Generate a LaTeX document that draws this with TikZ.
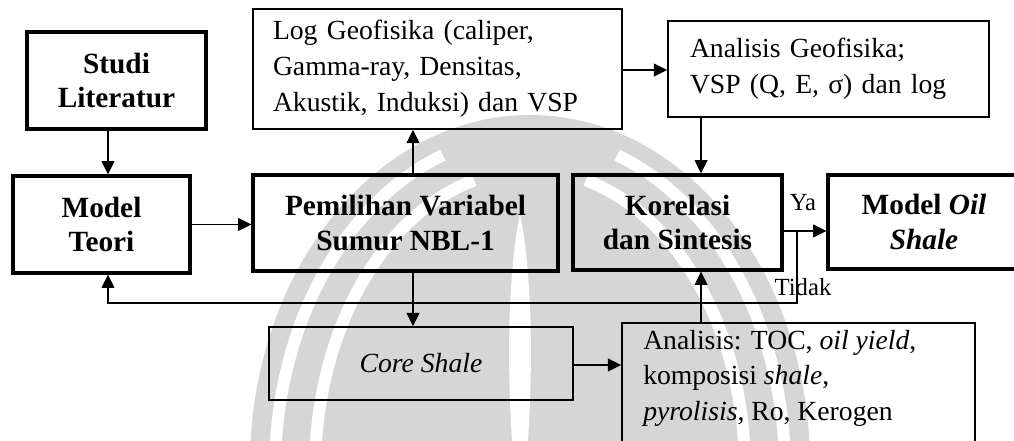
\documentclass[tikz,border=0pt]{standalone}
\usepackage{fontspec}
\setmainfont{Liberation Serif}
\usetikzlibrary{arrows.meta,calc}
\definecolor{wm}{gray}{0.84}
\begin{document}
\begin{tikzpicture}[x=0.75pt,y=-0.75pt,
  txt/.style={font=\fontsize{20.75pt}{26.5pt}\selectfont},
  thickbox/.style={draw, line width=2.3pt, inner sep=0pt, align=center, font=\fontsize{22pt}{26pt}\selectfont\bfseries},
  thinbox/.style={draw, line width=1.1pt, inner sep=0pt, font=\fontsize{20.75pt}{27pt}\selectfont},
  arr/.style={line width=1.2pt, -{Triangle[length=10pt,width=9.5pt]}},
  lbl/.style={font=\fontsize{18.5pt}{20pt}\selectfont, inner sep=0pt},
  wmband/.style={draw=white, line width=9pt}
]
\useasboundingbox (0,0) rectangle (1014,441);
\clip (0,0) rectangle (1014,441);
% faint watermark in the background
\fill[wm] (530,465) ellipse[x radius=280, y radius=350];
\draw[wmband] ([shift={(530,470)}] 185:215 and 300) arc[start angle=185, end angle=255, x radius=215, y radius=300];
\draw[wmband] ([shift={(530,470)}] 180:255 and 335) arc[start angle=180, end angle=250, x radius=255, y radius=335];
\draw[wmband] ([shift={(530,470)}] 355:215 and 300) arc[start angle=355, end angle=285, x radius=215, y radius=300];
\draw[wmband] ([shift={(530,470)}] 360:255 and 335) arc[start angle=360, end angle=290, x radius=255, y radius=335];
\fill[white] (512,441) .. controls (505,330) and (512,250) .. (520,215) .. controls (528,250) and (535,330) .. (528,441) -- cycle;
% boxes
\node[thickbox, minimum width=134.25pt, minimum height=72.75pt] (studi) at (116.5,80.5) {Studi\\Literatur};
\node[thickbox, minimum width=132.75pt, minimum height=72.75pt] (mt) at (101.5,224.5) {Model\\Teori};
\node[thickbox, minimum width=228.75pt, minimum height=72pt] (pem) at (405.5,223) {Pemilihan Variabel\\Sumur NBL-1};
\node[thickbox, minimum width=156.75pt, minimum height=71.25pt] (kor) at (677.5,222.5) {Korelasi\\dan Sintesis};
\node[thickbox, minimum width=144pt, minimum height=70.5pt] (oil) at (924,222) {Model \textit{Oil}\\\textit{Shale}};
\node[thinbox, minimum width=276.75pt, minimum height=90pt, text width=246.75pt, align=left] (log) at (437.5,69)
  {Log Geofisika (caliper,\\Gamma-ray, Densitas,\\Akustik, Induksi) dan VSP};
\node[thinbox, minimum width=240.75pt, minimum height=72pt, text width=207.75pt, align=left] (anag) at (828.5,69)
  {Analisis Geofisika;\\VSP (Q, E, σ) dan log};
\node[thinbox, minimum width=228pt, minimum height=54.75pt, font=\fontsize{20.75pt}{26.5pt}\selectfont\itshape] (core) at (421,363.5) {Core Shale};
\node[thinbox, minimum width=264.75pt, minimum height=110.25pt] (ana) at (798.5,396.5) {};
\node[txt, inner sep=0pt, anchor=north west, align=left] (anatxt) at (643,330)
  {Analisis: TOC, \textit{oil yield},\\komposisi \textit{shale},\\\textit{pyrolisis}, Ro, Kerogen};
% helper coordinates
\coordinate (c1) at (108,0);
\coordinate (c2) at (413,0);
\coordinate (c3) at (701,0);
\coordinate (r1) at (0,70);
\coordinate (r2) at (0,365);
\coordinate (r3) at (0,231);
\coordinate (r4) at (0,303);
\coordinate (br) at (797,231);
% connectors
\draw[arr] (studi.south -| c1) -- (mt.north -| c1);
\draw[arr] (mt.east) -- (pem.west |- mt.east);
\draw[arr] (pem.north -| c2) -- (log.south -| c2);
\draw[arr] (pem.south -| c2) -- (core.north -| c2);
\draw[arr] (log.east |- r1) -- (anag.west |- r1);
\draw[arr] (anag.south -| c3) -- (kor.north -| c3);
\draw[arr] (ana.north -| c3) -- (kor.south -| c3);
\draw[arr] (core.east |- r2) -- (ana.west |- r2);
\draw[arr] (kor.east |- r3) -- (oil.west |- r3);
\draw[arr] (br) -- (br |- r4) -- (c1 |- r4) -- (mt.south -| c1);
\node[lbl] (ya) at (803,203) {Ya};
\node[lbl] (tidak) at (803,287) {Tidak};
\end{tikzpicture}
\end{document}
